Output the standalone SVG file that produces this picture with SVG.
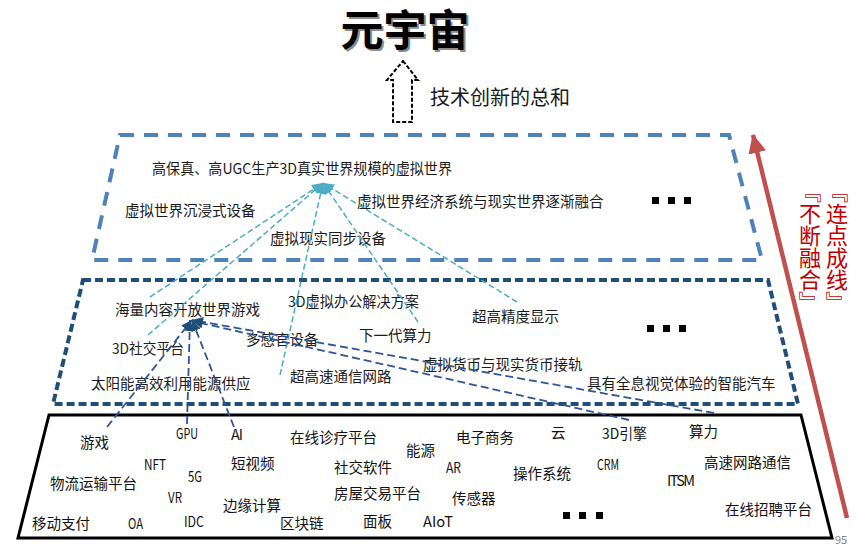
<svg xmlns="http://www.w3.org/2000/svg" xmlns:xlink="http://www.w3.org/1999/xlink" width="864" height="549" viewBox="0 0 864 549">
<style>
  text { font-family: "Noto Sans CJK SC", "Noto Sans", sans-serif; }
  .t { font-size: 14.5px; fill: #1a1a1a; }
  .b { font-size: 14.5px; fill: #111; }
  .sub { font-size: 20px; fill: #1a1a1a; }
  .red { font-size: 22px; fill: #C00000; }
  .vert { writing-mode: vertical-rl; }
  .cy { stroke: #4BACC6; stroke-width: 1.5; stroke-dasharray: 6 3; fill: none; }
  .db { stroke: #2F5597; stroke-width: 1.8; stroke-dasharray: 8 4; fill: none; }
  .sq { fill: #000; }
</style>
<defs>
  <marker id="mcy" markerUnits="userSpaceOnUse" markerWidth="12" markerHeight="10" refX="11" refY="5" orient="auto">
    <path d="M0,0 L11,5 L0,10 Z" fill="#4BACC6"/>
  </marker>
  <marker id="mdb" markerUnits="userSpaceOnUse" markerWidth="12" markerHeight="10" refX="11" refY="5" orient="auto">
    <path d="M0,0 L11,5 L0,10 Z" fill="#1F4E79"/>
  </marker>
  <marker id="mred" markerUnits="userSpaceOnUse" markerWidth="20" markerHeight="18" refX="18" refY="9" orient="auto">
    <path d="M0,0 L19,9 L0,18 Z" fill="#C0504D"/>
  </marker>
</defs>
<rect width="864" height="549" fill="#fff"/>

<g id="title">
  <use href="#ttl" xlink:href="#ttl" x="2" y="2" fill="#8c8c8c"/>
  <text id="ttl" x="405" y="46" text-anchor="middle" font-size="43" font-weight="bold">元宇宙</text>
</g>

<g id="sum-arrow">
  <path d="M403,61 L418,80 L412,80 L412,122 L393,122 L393,80 L387,80 Z" fill="none" stroke="#000" stroke-width="2" stroke-dasharray="4 2"/>
  <text class="sub" x="430" y="105">技术创新的总和</text>
</g>

<g id="layer-top">
  <polygon points="120,135 729,135 762,260 92,260" fill="none" stroke="#4F81BD" stroke-width="4" stroke-dasharray="14 10"/>
  <text class="t" x="152" y="174" textLength="300" lengthAdjust="spacingAndGlyphs">高保真、高UGC生产3D真实世界规模的虚拟世界</text>
  <text class="t" x="125" y="216">虚拟世界沉浸式设备</text>
  <text class="t" x="270" y="244">虚拟现实同步设备</text>
  <text class="t" x="357" y="207">虚拟世界经济系统与现实世界逐渐融合</text>
  <rect class="sq" x="652" y="197" width="7" height="7"/>
  <rect class="sq" x="668" y="197" width="7" height="7"/>
  <rect class="sq" x="684" y="197" width="7" height="7"/>
</g>

<g id="layer-middle">
  <polygon points="83,280 768,280 798,404 53,404" fill="none" stroke="#1F4E79" stroke-width="4" stroke-dasharray="8 4"/>
  <text class="t" x="115" y="315">海量内容开放世界游戏</text>
  <text class="t" x="288" y="307" textLength="131" lengthAdjust="spacingAndGlyphs">3D虚拟办公解决方案</text>
  <text class="t" x="112" y="354" textLength="72" lengthAdjust="spacingAndGlyphs">3D社交平台</text>
  <text class="t" x="246" y="345">多感官设备</text>
  <text class="t" x="359" y="341">下一代算力</text>
  <text class="t" x="91" y="389">太阳能高效利用能源供应</text>
  <text class="t" x="290" y="382">超高速通信网路</text>
  <text class="t" x="472" y="322">超高精度显示</text>
  <text class="t" x="423" y="370">虚拟货币与现实货币接轨</text>
  <text class="t" x="587" y="389">具有全息视觉体验的智能汽车</text>
  <rect class="sq" x="647" y="325" width="7" height="7"/>
  <rect class="sq" x="663" y="325" width="7" height="7"/>
  <rect class="sq" x="679" y="325" width="7" height="7"/>
</g>

<g id="layer-bottom">
  <polygon points="49,415 801,415 832,538 18,538" fill="none" stroke="#000" stroke-width="3"/>
  <text class="b" x="80" y="448">游戏</text>
  <text class="b" x="176" y="439" textLength="22" lengthAdjust="spacingAndGlyphs">GPU</text>
  <text class="b" x="231" y="440" textLength="12" lengthAdjust="spacing">AI</text>
  <text class="b" x="290" y="443">在线诊疗平台</text>
  <text class="b" x="406" y="456">能源</text>
  <text class="b" x="144" y="470" textLength="22" lengthAdjust="spacingAndGlyphs">NFT</text>
  <text class="b" x="188" y="482" textLength="14" lengthAdjust="spacingAndGlyphs">5G</text>
  <text class="b" x="231" y="469">短视频</text>
  <text class="b" x="334" y="473">社交软件</text>
  <text class="b" x="50" y="489">物流运输平台</text>
  <text class="b" x="168" y="503" textLength="14" lengthAdjust="spacingAndGlyphs">VR</text>
  <text class="b" x="223" y="511">边缘计算</text>
  <text class="b" x="334" y="499">房屋交易平台</text>
  <text class="b" x="32" y="529">移动支付</text>
  <text class="b" x="128" y="529" textLength="15" lengthAdjust="spacingAndGlyphs">OA</text>
  <text class="b" x="184" y="527" textLength="20" lengthAdjust="spacingAndGlyphs">IDC</text>
  <text class="b" x="280" y="529">区块链</text>
  <text class="b" x="363" y="527">面板</text>
  <text class="b" x="423" y="527" textLength="30" lengthAdjust="spacingAndGlyphs">AIoT</text>
  <text class="b" x="456" y="443">电子商务</text>
  <text class="b" x="551" y="438">云</text>
  <text class="b" x="602" y="439" textLength="45" lengthAdjust="spacingAndGlyphs">3D引擎</text>
  <text class="b" x="689" y="437">算力</text>
  <text class="b" x="446" y="473" textLength="15" lengthAdjust="spacingAndGlyphs">AR</text>
  <text class="b" x="513" y="479">操作系统</text>
  <text class="b" x="597" y="470" textLength="22" lengthAdjust="spacingAndGlyphs">CRM</text>
  <text class="b" x="704" y="468">高速网路通信</text>
  <text class="b" x="667" y="486" textLength="28" lengthAdjust="spacing">ITSM</text>
  <text class="b" x="452" y="504">传感器</text>
  <text class="b" x="725" y="515">在线招聘平台</text>
  <rect class="sq" x="563" y="512" width="7" height="7"/>
  <rect class="sq" x="579" y="512" width="7" height="7"/>
  <rect class="sq" x="596" y="512" width="7" height="7"/>
</g>

<g id="connectors">
  <line class="cy" x1="150" y1="297" x2="323" y2="183" marker-end="url(#mcy)"/>
  <line class="cy" x1="148" y1="335" x2="323" y2="183" marker-end="url(#mcy)"/>
  <line class="cy" x1="280" y1="375" x2="323" y2="183" marker-end="url(#mcy)"/>
  <line class="cy" x1="418" y1="322" x2="323" y2="183" marker-end="url(#mcy)"/>
  <line class="cy" x1="517" y1="302" x2="323" y2="183" marker-end="url(#mcy)"/>
  <line class="db" x1="107" y1="427" x2="192" y2="320" marker-end="url(#mdb)"/>
  <line class="db" x1="187" y1="424" x2="190" y2="320" marker-end="url(#mdb)"/>
  <line class="db" x1="234" y1="427" x2="192" y2="320" marker-end="url(#mdb)"/>
  <line class="db" x1="629" y1="420" x2="192" y2="321" marker-end="url(#mdb)"/>
  <line class="db" x1="714" y1="413" x2="192" y2="320" marker-end="url(#mdb)"/>
</g>

<g id="fusion-arrow">
  <line x1="847" y1="518" x2="753" y2="135" stroke="#C0504D" stroke-width="4.5" marker-end="url(#mred)"/>
  <text class="red" transform="translate(837,192) rotate(90)" x="0" y="8.4" text-anchor="middle">『</text>
  <text class="red vert" x="837" y="203">连点成线</text>
  <text class="red" transform="translate(837,302) rotate(90)" x="0" y="8.4" text-anchor="middle">』</text>
  <text class="red" transform="translate(810,192) rotate(90)" x="0" y="8.4" text-anchor="middle">『</text>
  <text class="red vert" x="810" y="203">不断融合</text>
  <text class="red" transform="translate(810,302) rotate(90)" x="0" y="8.4" text-anchor="middle">』</text>
</g>

<g id="page-number">
  <text x="835" y="544" style="font-size:11px; fill:#7f7f7f;">95</text>
</g>
</svg>
